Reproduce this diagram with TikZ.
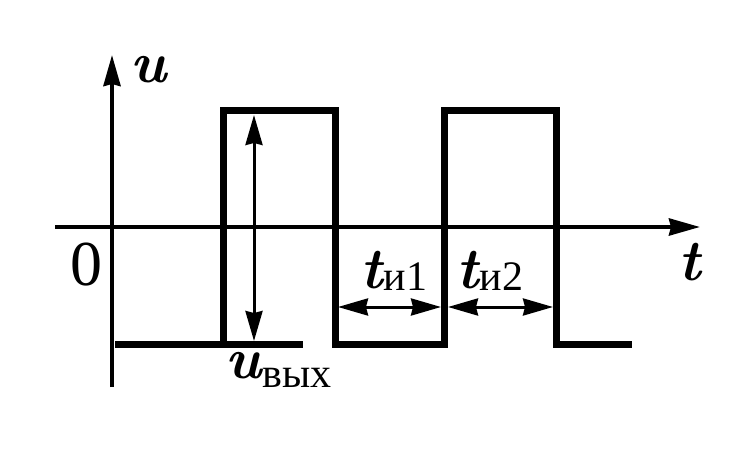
\documentclass[tikz,border=0pt]{standalone}
\usepackage{fontspec}
\newfontfamily\tnr{Liberation Serif}
\usetikzlibrary{arrows.meta}
\newcommand{\zerofont}{\tnr\upshape\mdseries\fontsize{64}{70}\selectfont}
\newcommand{\itfont}{\normalfont\bfseries\itshape\fontsize{58}{60}\selectfont}
\newcommand{\subfont}{\tnr\upshape\mdseries\fontsize{42}{46}\selectfont}
\begin{document}
\begin{tikzpicture}[x=1pt,y=-1pt,
  axisline/.style={line width=4pt,-{Stealth[length=31pt,width=17pt,inset=2pt]}},
  wave/.style={line width=7pt,line join=miter,line cap=butt},
  dim/.style={line width=3pt,{Stealth[length=30pt,width=17pt,inset=2pt]}-{Stealth[length=30pt,width=17pt,inset=2pt]}},
  lbl/.style={inner sep=0pt,font=\itfont}]
\useasboundingbox (0,0) rectangle (740,452);
% axes
\coordinate (xs) at (55,227);
\coordinate (xe) at (700,227);
\coordinate (ys) at (112,387);
\coordinate (ye) at (112,55);
\draw[axisline] (xs) -- (xe);
\draw[axisline] (ys) -- (ye);
% wave
\coordinate (w0) at (115,344);
\coordinate (w1) at (223,344);
\coordinate (w2) at (223,111);
\coordinate (w3) at (335,111);
\coordinate (w4) at (335,344);
\coordinate (w5) at (444,344);
\coordinate (w6) at (444,111);
\coordinate (w7) at (556,111);
\coordinate (w8) at (556,344);
\coordinate (w9) at (632,344);
\coordinate (wx) at (303,344);
\draw[wave] (w0) -- (w1) -- (w2) -- (w3) -- (w4) -- (w5) -- (w6) -- (w7) -- (w8) -- (w9);
\draw[wave] (w1) -- (wx);
% dimension arrows
\coordinate (a1) at (254,115);
\coordinate (a2) at (254,341);
\draw[dim] (a1) -- (a2);
\coordinate (b1) at (338,307);
\coordinate (b2) at (441,307);
\coordinate (b3) at (448,307);
\coordinate (b4) at (553,307);
\draw[dim] (b1) -- (b2);
\draw[dim] (b3) -- (b4);
% labels
\node[lbl,anchor=base west] (lu) at (130,83) {u};
\node[lbl,anchor=base,font=\zerofont] (l0) at (86,285) {0};
\node[lbl,anchor=base west] (lt) at (678,280) {t};
\node[lbl,anchor=base west] (luv) at (225,378) {u\kern1pt\raisebox{-9pt}{\subfont вых}};
\node[lbl,anchor=base west] (lt1) at (360,288) {t\kern1pt\raisebox{-2pt}{\subfont и1}};
\node[lbl,anchor=base west] (lt2) at (456,288) {t\kern1pt\raisebox{-2pt}{\subfont и2}};
\end{tikzpicture}
\end{document}
